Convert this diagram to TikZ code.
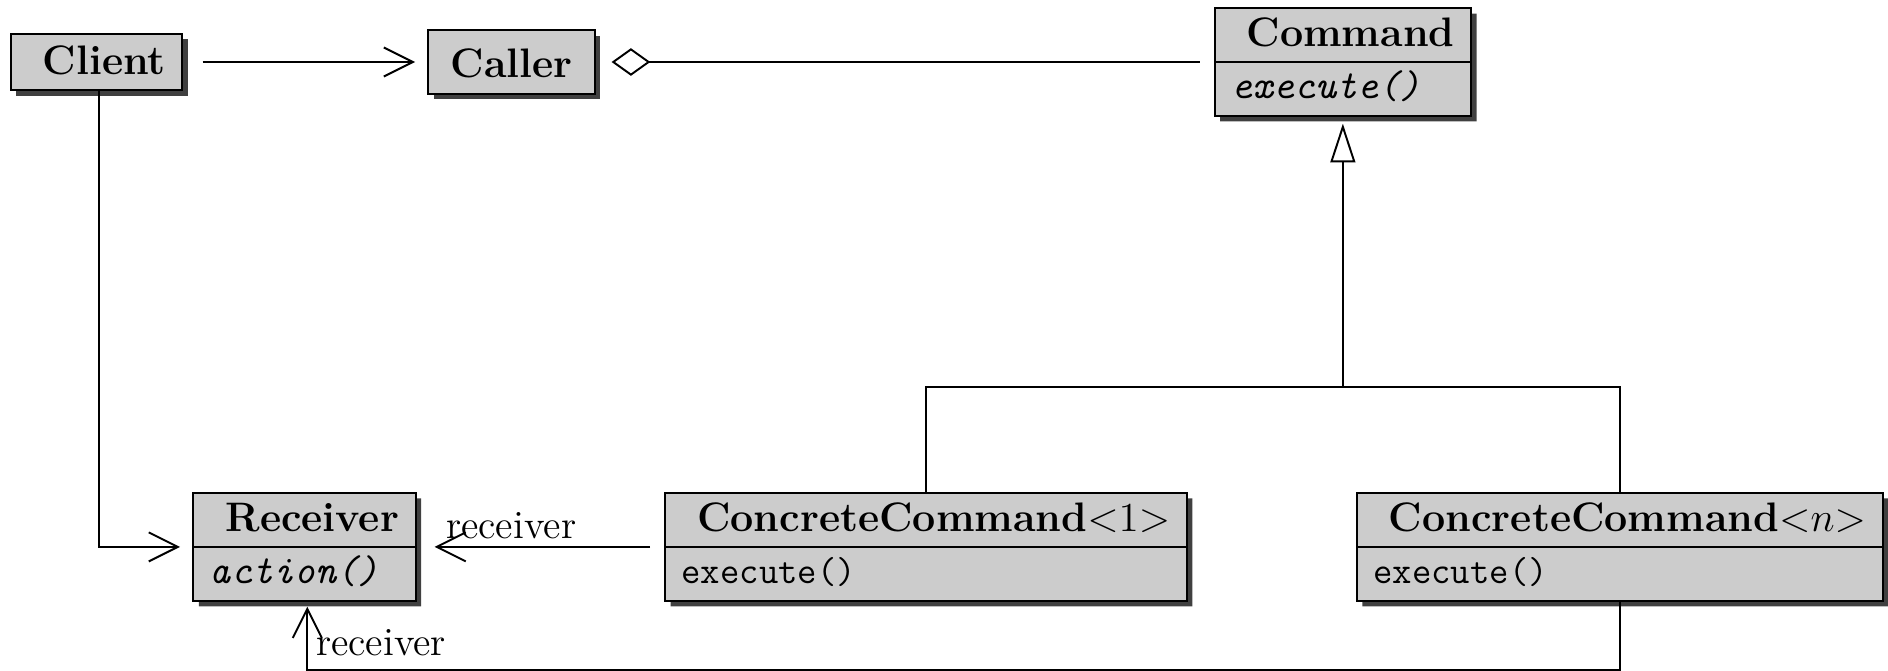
\RequirePackage{fix-cm}
\documentclass[tikz,border=0pt]{standalone}
\usepackage{amsmath}
\usepackage{tikz}
\usetikzlibrary{shapes.multipart,shadows,arrows.meta}

\tikzset{
	umlshadow/.style={drop shadow={shadow xshift=2pt, shadow yshift=-2pt, fill=black!75, opacity=1, draw=none}},
	umlbox/.style={draw, line width=0.7pt, fill=gray!40, inner xsep=6pt, inner ysep=0pt, font=\fontsize{14.9}{18}\selectfont\bfseries, umlshadow},
	umlclass/.style={umlbox, rectangle split, rectangle split parts=2, rectangle split part align={center,left}},
	assoc/.style={line width=0.7pt, -{Straight Barb[length=10.5pt,width=10.5pt]}},
	inherit/.style={line width=0.7pt, -{Triangle[open,length=14pt,width=9pt]}},
	aggr/.style={line width=0.7pt, {Diamond[open,length=14pt,width=10pt]}-},
	rolelabel/.style={inner sep=0pt, font=\Large}
}
\newcommand{\titlestrut}{\rule[-5.2pt]{0pt}{18.8pt}}
\newcommand{\opstrut}{\rule[-5.8pt]{0pt}{18.8pt}}
\newcommand{\op}{\fontsize{13.6}{16}\selectfont\mdseries\ttfamily}
\newcommand{\absop}{\fontsize{14.5}{17}\selectfont\mdseries\ttfamily\itshape}

\begin{document}
\begin{tikzpicture}
		\useasboundingbox (0,0) rectangle (24,-8.517);

		% Classes
		\node[umlbox] (Client) at (1.227,-0.788) {\rule[-5.5pt]{0pt}{20.3pt}\ Client};
		\node[umlbox, inner xsep=8pt] (Caller) at (6.502,-0.788) {\rule[-6.1pt]{0pt}{23.1pt}Caller};
		\node[umlclass, anchor=north] (Command) at (17.07,-0.089) {\titlestrut\ Command\nodepart{second}\opstrut\absop execute()};
		\node[umlclass, anchor=north] (Receiver) at (3.871,-6.254) {\titlestrut\ Receiver\nodepart{second}\opstrut\absop action()};
		\node[umlclass, anchor=north] (CCone) at (11.77,-6.254) {\titlestrut\ ConcreteCommand${<}1{>}$\nodepart{second}\opstrut\op execute()};
		\node[umlclass, anchor=north] (CCn) at (20.59,-6.254) {\titlestrut\ ConcreteCommand${<}n{>}$\nodepart{second}\opstrut\op execute()};

		\coordinate (fork) at (Command.south |- 0,-4.92);
		\coordinate (lowrail) at (0,-8.514);

		% Associations
		\draw[assoc, shorten <=7pt, shorten >=4.5pt] (Client) -- (Caller);
		\draw[aggr, shorten <=5.8pt, shorten >=5pt] (Caller.east) -- (Caller.east -| Command.west);
		\draw[assoc, shorten >=4.5pt] ([xshift=1pt]Client.south) |- (Receiver.west);
		\draw[assoc, shorten <=5pt, shorten >=6.5pt] (CCone.west) -- (Receiver.east);
		\draw[assoc, shorten >=1.8pt] (CCn.south) -- (CCn.south |- lowrail) -| ([xshift=1pt]Receiver.south);

		% Generalisation
		\draw[inherit, shorten >=2.5pt] (fork) -- (Command.south);
		\draw[line width=0.7pt] (CCone.north) |- (fork) -| (CCn.north);

		% Role names
		\node[rolelabel, anchor=base west] (roleone) at ([xshift=10.5pt, yshift=2.9pt]Receiver.east) {receiver};
		\node[rolelabel, anchor=base west] (rolen) at ([xshift=4pt, yshift=-19.5pt]Receiver.south) {receiver};
	\end{tikzpicture}
\end{document}
